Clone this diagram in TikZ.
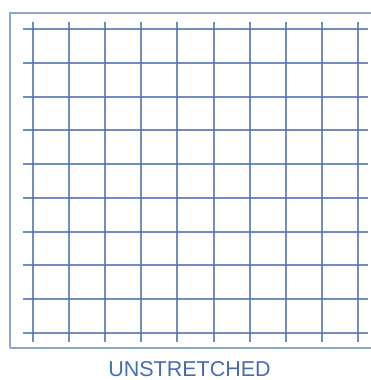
\documentclass[tikz,border=0pt]{standalone}
\usepackage{fontspec}
\setmainfont{Liberation Sans}
\usepackage{tikz}

\definecolor{gridblue}{RGB}{78,112,184}
\definecolor{frameblue}{RGB}{140,166,212}
\definecolor{labelblue}{RGB}{72,108,176}

\begin{document}
\begin{tikzpicture}[x=1pt,y=-1pt]
  \useasboundingbox (0,0) rectangle (371,380);
  % frame (open on the right)
  \draw[frameblue,line width=1.5pt] (371,13) -- (10,13) -- (10,348);
  \draw[frameblue,line width=2.5pt] (10,348) -- (371,348);
  % vertical grid lines
  \foreach \i in {0,...,9} {
    \draw[gridblue,opacity=0.8,line width=2pt] (33+36.1*\i,21.7) -- (33+36.1*\i,341.7);
  }
  % horizontal grid lines
  \foreach \j in {0,...,9} {
    \draw[gridblue,opacity=0.8,line width=2pt] (22.7,29.3+33.7*\j) -- (368,29.3+33.7*\j);
  }
  % caption
  \node[labelblue,font=\fontsize{21.5}{24}\selectfont,anchor=base] (caption) at (189.5,376) {UNSTRETCHED};
\end{tikzpicture}
\end{document}
